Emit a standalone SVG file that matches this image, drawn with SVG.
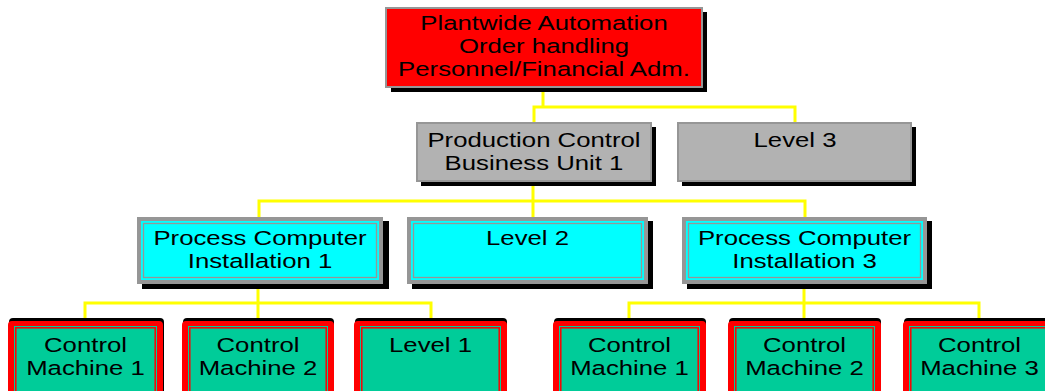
<svg xmlns="http://www.w3.org/2000/svg" width="1045" height="391" viewBox="0 0 1045 391">
  <style>
    .wire { stroke: #FFFF00; stroke-width: 3; fill: none; stroke-linecap: square; }
    .shadow { fill: #000000; }
    .top { fill: #FF0000; stroke: #969696; stroke-width: 2; }
    .grey { fill: #B2B2B2; stroke: #969696; stroke-width: 2; }
    .cyan { fill: #00FFFF; stroke: #969696; stroke-width: 4; }
    .cyan-in { fill: none; stroke: #969696; stroke-width: 1.3; }
    .mach { fill: #FF0000; }
    .mach-fill { fill: #00CC99; }
    .mach-in { fill: none; stroke: #FF0000; stroke-width: 1.5; }
    text { font-family: "Liberation Sans", Arial, sans-serif; font-size: 19.5px; fill: #000000; text-anchor: middle; }
  </style>

  <!-- connectors -->
  <g id="connectors">
    <path class="wire" d="M543 88 V107 M534 107 H795 M534 107 V122 M795 107 V122"/>
    <path class="wire" d="M533 182 V217 M259 201 H805 M259 201 V217 M805 201 V217"/>
    <path class="wire" d="M258 284 V320 M85 303 H431 M85 303 V320 M431 303 V320"/>
    <path class="wire" d="M804 284 V320 M629 303 H979 M629 303 V320 M979 303 V320"/>
  </g>

  <!-- level 4 -->
  <g id="plantwide">
    <rect class="shadow" x="391" y="12" width="316" height="80"/>
    <rect class="top" x="386" y="8" width="316" height="79"/>
    <text transform="translate(544 0) scale(1.32 1)" y="30">Plantwide Automation</text>
    <text transform="translate(544 0) scale(1.32 1)" y="53">Order handling</text>
    <text transform="translate(544 0) scale(1.32 1)" y="76">Personnel/Financial Adm.</text>
  </g>

  <!-- level 3 -->
  <g id="production-control">
    <rect class="shadow" x="421" y="127" width="235" height="59"/>
    <rect class="grey" x="417" y="123" width="234" height="58"/>
    <text transform="translate(534 0) scale(1.32 1)" y="147">Production Control</text>
    <text transform="translate(534 0) scale(1.32 1)" y="170">Business Unit 1</text>
  </g>
  <g id="level-3">
    <rect class="shadow" x="682" y="127" width="234" height="59"/>
    <rect class="grey" x="678" y="123" width="233" height="58"/>
    <text transform="translate(795 0) scale(1.32 1)" y="147">Level 3</text>
  </g>

  <!-- level 2 -->
  <g id="process-computer-1">
    <rect class="shadow" x="142" y="221" width="247" height="68"/>
    <rect class="cyan" x="139" y="219" width="242" height="63"/>
    <rect class="cyan-in" x="143.5" y="223.5" width="233" height="54"/>
    <text transform="translate(260 0) scale(1.32 1)" y="245">Process Computer</text>
    <text transform="translate(260 0) scale(1.32 1)" y="268">Installation 1</text>
  </g>
  <g id="level-2">
    <rect class="shadow" x="412" y="221" width="241" height="68"/>
    <rect class="cyan" x="409" y="219" width="237" height="63"/>
    <rect class="cyan-in" x="413.5" y="223.5" width="228" height="54"/>
    <text transform="translate(527.5 0) scale(1.32 1)" y="245">Level 2</text>
  </g>
  <g id="process-computer-3">
    <rect class="shadow" x="687" y="221" width="245" height="68"/>
    <rect class="cyan" x="684" y="219" width="241" height="63"/>
    <rect class="cyan-in" x="688.5" y="223.5" width="232" height="54"/>
    <text transform="translate(804.5 0) scale(1.32 1)" y="245">Process Computer</text>
    <text transform="translate(804.5 0) scale(1.32 1)" y="268">Installation 3</text>
  </g>

  <!-- level 1 -->
  <g id="machine-1a">
    <rect class="shadow" x="9" y="318" width="155" height="90" rx="4"/>
    <rect class="mach" x="8" y="321" width="155" height="90" rx="4"/>
    <rect class="mach-fill" x="14" y="326" width="143" height="80"/>
    <rect class="mach-in" x="15.8" y="327.8" width="139.4" height="76"/>
    <text transform="translate(85.5 0) scale(1.32 1)" y="352">Control</text>
    <text transform="translate(85.5 0) scale(1.32 1)" y="375">Machine 1</text>
  </g>
  <g id="machine-2a">
    <rect class="shadow" x="183" y="318" width="151" height="90" rx="4"/>
    <rect class="mach" x="182" y="321" width="152" height="90" rx="4"/>
    <rect class="mach-fill" x="188" y="326" width="140" height="80"/>
    <rect class="mach-in" x="189.8" y="327.8" width="136.4" height="76"/>
    <text transform="translate(258 0) scale(1.32 1)" y="352">Control</text>
    <text transform="translate(258 0) scale(1.32 1)" y="375">Machine 2</text>
  </g>
  <g id="level-1">
    <rect class="shadow" x="355" y="318" width="152" height="90" rx="4"/>
    <rect class="mach" x="354" y="321" width="153" height="90" rx="4"/>
    <rect class="mach-fill" x="360" y="326" width="141" height="80"/>
    <rect class="mach-in" x="361.8" y="327.8" width="137.4" height="76"/>
    <text transform="translate(430.5 0) scale(1.32 1)" y="352">Level 1</text>
  </g>
  <g id="machine-1b">
    <rect class="shadow" x="554" y="318" width="152" height="90" rx="4"/>
    <rect class="mach" x="553" y="321" width="153" height="90" rx="4"/>
    <rect class="mach-fill" x="559" y="326" width="141" height="80"/>
    <rect class="mach-in" x="560.8" y="327.8" width="137.4" height="76"/>
    <text transform="translate(629.5 0) scale(1.32 1)" y="352">Control</text>
    <text transform="translate(629.5 0) scale(1.32 1)" y="375">Machine 1</text>
  </g>
  <g id="machine-2b">
    <rect class="shadow" x="729" y="318" width="152" height="90" rx="4"/>
    <rect class="mach" x="728" y="321" width="153" height="90" rx="4"/>
    <rect class="mach-fill" x="734" y="326" width="141" height="80"/>
    <rect class="mach-in" x="735.8" y="327.8" width="137.4" height="76"/>
    <text transform="translate(804.5 0) scale(1.32 1)" y="352">Control</text>
    <text transform="translate(804.5 0) scale(1.32 1)" y="375">Machine 2</text>
  </g>
  <g id="machine-3b">
    <rect class="shadow" x="904" y="318" width="152" height="90" rx="4"/>
    <rect class="mach" x="903" y="321" width="153" height="90" rx="4"/>
    <rect class="mach-fill" x="909" y="326" width="141" height="80"/>
    <rect class="mach-in" x="910.8" y="327.8" width="137.4" height="76"/>
    <text transform="translate(979.5 0) scale(1.32 1)" y="352">Control</text>
    <text transform="translate(979.5 0) scale(1.32 1)" y="375">Machine 3</text>
  </g>
</svg>
